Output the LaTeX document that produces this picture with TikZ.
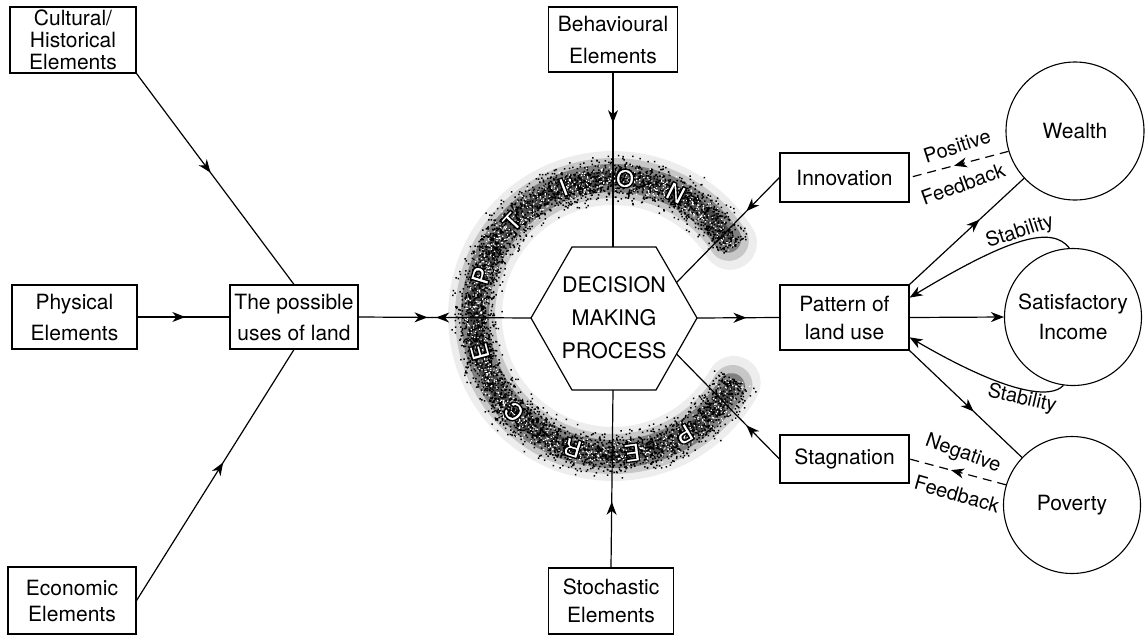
\documentclass[tikz,border=0pt]{standalone}
\usepackage{fontspec}
\setmainfont{TeX Gyre Heros}
\usetikzlibrary{arrows.meta,decorations.markings,calc}
\tikzset{
  tip/.tip={Stealth[length=13pt,width=10pt,inset=4pt]},
  midarrow/.style={postaction={decorate},decoration={markings,mark=at position #1 with {\arrow{tip}}}},
  box/.style={draw,line width=1.1pt,align=center,inner sep=0pt,font=\fontsize{21}{29}\selectfont},
  blob/.style={draw,circle,line width=1.1pt,align=center,inner sep=0pt,minimum size=138pt,font=\fontsize{21}{30}\selectfont},
  lbl/.style={inner sep=0pt,font=\fontsize{20}{20}\selectfont},
  ringtxt/.style={inner sep=0pt,text=white,font=\fontsize{25}{25}\selectfont\bfseries},
  fb/.style={dashed,dash pattern=on 9pt off 6pt},
  band/.style={line cap=round,line join=round}
}
\newcommand\outlined[1]{\special{pdf:literal direct 2 Tr 1.3 w 0 G}#1\special{pdf:literal direct 0 Tr}}
\newcommand\ringletter[3]{%
  \node[ringtxt,rotate={#2-90}] (#1) at ({613+138*cos(#2)},{316-138*sin(#2)}) {\outlined{#3}};
}
\begin{document}
\begin{tikzpicture}[x=1pt,y=-1pt,line width=1.2pt]
\useasboundingbox (0,0) rectangle (1146,638);
% perception ring (stipple)
\draw[band,line width=54pt,black!7] plot[domain=32:331,samples=90] ({613+138*cos(\x)},{316-138*sin(\x)});
\draw[band,line width=40pt,black!22] plot[domain=33:330,samples=90] ({613+138*cos(\x)},{316-138*sin(\x)});
\draw[band,line width=28pt,black!50] plot[domain=34:329,samples=90] ({613+138*cos(\x)},{316-138*sin(\x)});
\draw[band,line width=14pt,black!70] plot[domain=36:327,samples=90] ({613+138*cos(\x)},{316-138*sin(\x)});
\pgfmathsetseed{7}
\fill \foreach \i in {1,...,4800}{%
  \pgfextra{\pgfmathsetmacro\ang{30+303*rnd}\pgfmathsetmacro\rad{138+9.5*(rand+rand+rand)}}
  ({613+\rad*cos(\ang)},{316-\rad*sin(\ang)}) rectangle ++(1.5,1.5)
};
\fill[white] \foreach \i in {1,...,1200}{%
  \pgfextra{\pgfmathsetmacro\ang{30+303*rnd}\pgfmathsetmacro\rad{138+6.5*(rand+rand+rand)}}
  ({613+\rad*cos(\ang)},{316-\rad*sin(\ang)}) rectangle ++(1.2,1.2)
};
\ringletter{rP1}{301}{P}
\ringletter{rE1}{278}{E}
\ringletter{rR}{253}{R}
\ringletter{rC}{224}{C}
\ringletter{rE2}{195}{E}
\ringletter{rP2}{163}{P}
\ringletter{rT}{137}{T}
\ringletter{rI}{111}{I}
\ringletter{rO}{85}{O}
\ringletter{rN}{63}{N}

% boxes
\node[box,minimum width=126pt,minimum height=66pt,font=\fontsize{21}{22}\selectfont] (cult) at (73,40) {Cultural/\\Historical\\Elements};
\node[box,minimum width=125pt,minimum height=64pt,font=\fontsize{21}{31}\selectfont] (phys) at (74.5,317) {Physical\\Elements};
\node[box,minimum width=128pt,minimum height=64pt,font=\fontsize{21}{31}\selectfont] (poss) at (294,317) {The possible\\uses of land};
\node[box,minimum width=128pt,minimum height=67pt,font=\fontsize{21}{26}\selectfont] (econ) at (72,600.5) {Economic\\Elements};
\node[box,minimum width=129pt,minimum height=65pt,font=\fontsize{21}{32}\selectfont] (beh) at (613,39.5) {Behavioural\\Elements};
\node[box,minimum width=125pt,minimum height=66pt,font=\fontsize{21}{28}\selectfont] (stoch) at (611,601) {Stochastic\\Elements};
\node[box,minimum width=129pt,minimum height=49pt] (innov) at (844.5,177.5) {Innovation};
\node[box,minimum width=129pt,minimum height=65pt,font=\fontsize{21}{28}\selectfont] (patt) at (844.5,317.5) {Pattern of\\land use};
\node[box,minimum width=129pt,minimum height=48pt] (stag) at (844.5,459) {Stagnation};

% hexagon
\coordinate (hW) at (531,318);
\coordinate (hNW) at (572,247);
\coordinate (hNE) at (656,247);
\coordinate (hE) at (697,318);
\coordinate (hSE) at (656,390);
\coordinate (hSW) at (572,390);
\coordinate (hN) at (613,247);
\coordinate (hS) at (613,390);
\coordinate (hNEm) at ($(hNE)!0.5!(hE)$);
\coordinate (hSEm) at ($(hSE)!0.5!(hE)$);
\fill[white] (hW) -- (hNW) -- (hNE) -- (hE) -- (hSE) -- (hSW) -- cycle;
\draw[line width=1.2pt] (hW) -- (hNW) -- (hNE) -- (hE) -- (hSE) -- (hSW) -- cycle;
\node[align=center,inner sep=0pt,font=\fontsize{21.5}{33}\selectfont] (hex) at (614,318) {DECISION\\MAKING\\PROCESS};

% circles
\node[blob] (wealth) at (1075,131) {Wealth};
\node[blob,minimum size=137pt] (sat) at (1073,317) {Satisfactory\\Income};
\node[blob,minimum size=137pt] (pov) at (1072,505) {Poverty};

% left connectors
\draw[midarrow=0.47] (cult.south east) -- (poss.north);
\draw[midarrow=0.52] (phys.east) -- (poss.west);
\draw[midarrow=0.55] (econ.east) -- (poss.south);
\draw[postaction={decorate},decoration={markings,
   mark=at position 0.40 with {\arrow{tip}},
   mark=at position 0.45 with {\arrowreversed{tip}}}] (poss.east) -- (hW);
% vertical
\draw[midarrow=0.29] (beh.south) -- (hN);
\draw[midarrow=0.37] (stoch.north) -- (hS);
% right of hexagon
\draw[midarrow=0.6] (hE) -- (patt.west);
\draw[midarrow=0.32] (innov.west) -- (hNEm);
\draw[midarrow=0.32] (stag.west) -- (hSEm);
% pattern to outcomes
\draw[midarrow=0.61] (patt.north east) -- (wealth);
\draw[-tip] (patt.east) -- (sat.west);
\draw[midarrow=0.57] (patt.south east) -- (pov);
\coordinate (pattR1) at ($(patt.north east)!0.2!(patt.south east)$);
\coordinate (pattR2) at ($(patt.north east)!0.8!(patt.south east)$);
\draw[-tip] (sat.93) .. controls (1052,226) and (1012,236) .. (pattR1);
\draw[-tip] (sat.262) .. controls (1052,398) and (1012,397) .. (pattR2);
% feedback
\draw[fb,midarrow=0.55] (wealth.197) -- (innov.east);
\draw[fb,midarrow=0.57] (pov.163) -- (stag.east);

% labels
\node[lbl,rotate=18] (lpos) at (957,146) {Positive};
\node[lbl,rotate=20] (lfb1) at (963,184) {Feedback};
\node[lbl,rotate=18] (lst1) at (1020,232) {Stability};
\node[lbl,rotate=-13] (lst2) at (1022,399) {Stability};
\node[lbl,rotate=-20] (lneg) at (963,454) {Negative};
\node[lbl,rotate=-16] (lfb2) at (957,494) {Feedback};
\end{tikzpicture}
\end{document}
